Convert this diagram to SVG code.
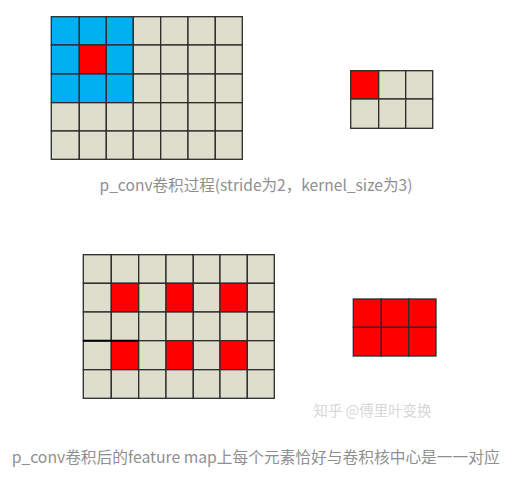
<svg xmlns="http://www.w3.org/2000/svg" width="529" height="487" viewBox="0 0 529 487">
<style>
.g{fill:#dddfcc;stroke:#2b2b2b;stroke-width:1.3}
.b{fill:#00b0f0;stroke:#2b2b2b;stroke-width:1.3}
.r{fill:#ff0000;stroke:#2b2b2b;stroke-width:1.3}
.cap{font-family:"Microsoft YaHei","Noto Sans CJK SC",sans-serif;font-size:15.5px;fill:#8f8f8f}
.wm{font-family:"Noto Sans CJK SC",sans-serif;font-size:15px;fill:#d8d8d8}
</style>
<rect width="529" height="487" fill="#ffffff"/>
<g id="input-grid-1">
<!-- row 1 -->
<rect class="b" x="51.3" y="16.7" width="28" height="28.3"/>
<rect class="b" x="79.3" y="16.7" width="27" height="28.3"/>
<rect class="b" x="106.3" y="16.7" width="27" height="28.3"/>
<rect class="g" x="133.3" y="16.7" width="27.4" height="28.3"/>
<rect class="g" x="160.7" y="16.7" width="27.3" height="28.3"/>
<rect class="g" x="188" y="16.7" width="27.3" height="28.3"/>
<rect class="g" x="215.3" y="16.7" width="27" height="28.3"/>
<!-- row 2 -->
<rect class="b" x="51.3" y="45" width="28" height="29"/>
<rect class="r" x="79.3" y="45" width="27" height="29"/>
<rect class="b" x="106.3" y="45" width="27" height="29"/>
<rect class="g" x="133.3" y="45" width="27.4" height="29"/>
<rect class="g" x="160.7" y="45" width="27.3" height="29"/>
<rect class="g" x="188" y="45" width="27.3" height="29"/>
<rect class="g" x="215.3" y="45" width="27" height="29"/>
<!-- row 3 -->
<rect class="b" x="51.3" y="74" width="28" height="28.7"/>
<rect class="b" x="79.3" y="74" width="27" height="28.7"/>
<rect class="b" x="106.3" y="74" width="27" height="28.7"/>
<rect class="g" x="133.3" y="74" width="27.4" height="28.7"/>
<rect class="g" x="160.7" y="74" width="27.3" height="28.7"/>
<rect class="g" x="188" y="74" width="27.3" height="28.7"/>
<rect class="g" x="215.3" y="74" width="27" height="28.7"/>
<!-- row 4 -->
<rect class="g" x="51.3" y="102.7" width="28" height="28.3"/>
<rect class="g" x="79.3" y="102.7" width="27" height="28.3"/>
<rect class="g" x="106.3" y="102.7" width="27" height="28.3"/>
<rect class="g" x="133.3" y="102.7" width="27.4" height="28.3"/>
<rect class="g" x="160.7" y="102.7" width="27.3" height="28.3"/>
<rect class="g" x="188" y="102.7" width="27.3" height="28.3"/>
<rect class="g" x="215.3" y="102.7" width="27" height="28.3"/>
<!-- row 5 -->
<rect class="g" x="51.3" y="131" width="28" height="28.3"/>
<rect class="g" x="79.3" y="131" width="27" height="28.3"/>
<rect class="g" x="106.3" y="131" width="27" height="28.3"/>
<rect class="g" x="133.3" y="131" width="27.4" height="28.3"/>
<rect class="g" x="160.7" y="131" width="27.3" height="28.3"/>
<rect class="g" x="188" y="131" width="27.3" height="28.3"/>
<rect class="g" x="215.3" y="131" width="27" height="28.3"/>
</g>
<g id="output-grid-1">
<rect class="r" x="350.7" y="70.7" width="28" height="28.3"/>
<rect class="g" x="378.7" y="70.7" width="27" height="28.3"/>
<rect class="g" x="405.7" y="70.7" width="27" height="28.3"/>
<rect class="g" x="350.7" y="99" width="28" height="29.3"/>
<rect class="g" x="378.7" y="99" width="27" height="29.3"/>
<rect class="g" x="405.7" y="99" width="27" height="29.3"/>
</g>
<g id="caption-1">
<text class="cap" x="99.5" y="191" textLength="313" lengthAdjust="spacingAndGlyphs">p_conv卷积过程(stride为2，kernel_size为3)</text>
</g>
<g id="input-grid-2">
<!-- row 1 -->
<rect class="g" x="83.3" y="254.7" width="28" height="28.6"/>
<rect class="g" x="111.3" y="254.7" width="27.4" height="28.6"/>
<rect class="g" x="138.7" y="254.7" width="27.3" height="28.6"/>
<rect class="g" x="166" y="254.7" width="27.3" height="28.6"/>
<rect class="g" x="193.3" y="254.7" width="26.7" height="28.6"/>
<rect class="g" x="220" y="254.7" width="27.3" height="28.6"/>
<rect class="g" x="247.3" y="254.7" width="27" height="28.6"/>
<!-- row 2 -->
<rect class="g" x="83.3" y="283.3" width="28" height="28.7"/>
<rect class="r" x="111.3" y="283.3" width="27.4" height="28.7"/>
<rect class="g" x="138.7" y="283.3" width="27.3" height="28.7"/>
<rect class="r" x="166" y="283.3" width="27.3" height="28.7"/>
<rect class="g" x="193.3" y="283.3" width="26.7" height="28.7"/>
<rect class="r" x="220" y="283.3" width="27.3" height="28.7"/>
<rect class="g" x="247.3" y="283.3" width="27" height="28.7"/>
<!-- row 3 -->
<rect class="g" x="83.3" y="312" width="28" height="28.7"/>
<rect class="g" x="111.3" y="312" width="27.4" height="28.7"/>
<rect class="g" x="138.7" y="312" width="27.3" height="28.7"/>
<rect class="g" x="166" y="312" width="27.3" height="28.7"/>
<rect class="g" x="193.3" y="312" width="26.7" height="28.7"/>
<rect class="g" x="220" y="312" width="27.3" height="28.7"/>
<rect class="g" x="247.3" y="312" width="27" height="28.7"/>
<!-- row 4 -->
<rect class="g" x="83.3" y="340.7" width="28" height="29"/>
<rect class="r" x="111.3" y="340.7" width="27.4" height="29"/>
<rect class="g" x="138.7" y="340.7" width="27.3" height="29"/>
<rect class="r" x="166" y="340.7" width="27.3" height="29"/>
<rect class="g" x="193.3" y="340.7" width="26.7" height="29"/>
<rect class="r" x="220" y="340.7" width="27.3" height="29"/>
<rect class="g" x="247.3" y="340.7" width="27" height="29"/>
<!-- row 5 -->
<rect class="g" x="83.3" y="369.7" width="28" height="28.6"/>
<rect class="g" x="111.3" y="369.7" width="27.4" height="28.6"/>
<rect class="g" x="138.7" y="369.7" width="27.3" height="28.6"/>
<rect class="g" x="166" y="369.7" width="27.3" height="28.6"/>
<rect class="g" x="193.3" y="369.7" width="26.7" height="28.6"/>
<rect class="g" x="220" y="369.7" width="27.3" height="28.6"/>
<rect class="g" x="247.3" y="369.7" width="27" height="28.6"/>
<line x1="83" y1="340.7" x2="138.7" y2="340.7" stroke="#000" stroke-width="2"/>
</g>
<g id="output-grid-2">
<rect class="r" x="353.3" y="299" width="28" height="28.3"/>
<rect class="r" x="381.3" y="299" width="27.4" height="28.3"/>
<rect class="r" x="408.7" y="299" width="27.3" height="28.3"/>
<rect class="r" x="353.3" y="327.3" width="28" height="28.7"/>
<rect class="r" x="381.3" y="327.3" width="27.4" height="28.7"/>
<rect class="r" x="408.7" y="327.3" width="27.3" height="28.7"/>
</g>
<g id="watermark">
<text class="wm" x="313.5" y="415.5" textLength="118" lengthAdjust="spacingAndGlyphs">知乎 @傅里叶变换</text>
</g>
<g id="caption-2">
<text class="cap" x="11.7" y="463" textLength="488" lengthAdjust="spacingAndGlyphs">p_conv卷积后的feature map上每个元素恰好与卷积核中心是一一对应</text>
</g>
<g id="connectors"/>
</svg>
